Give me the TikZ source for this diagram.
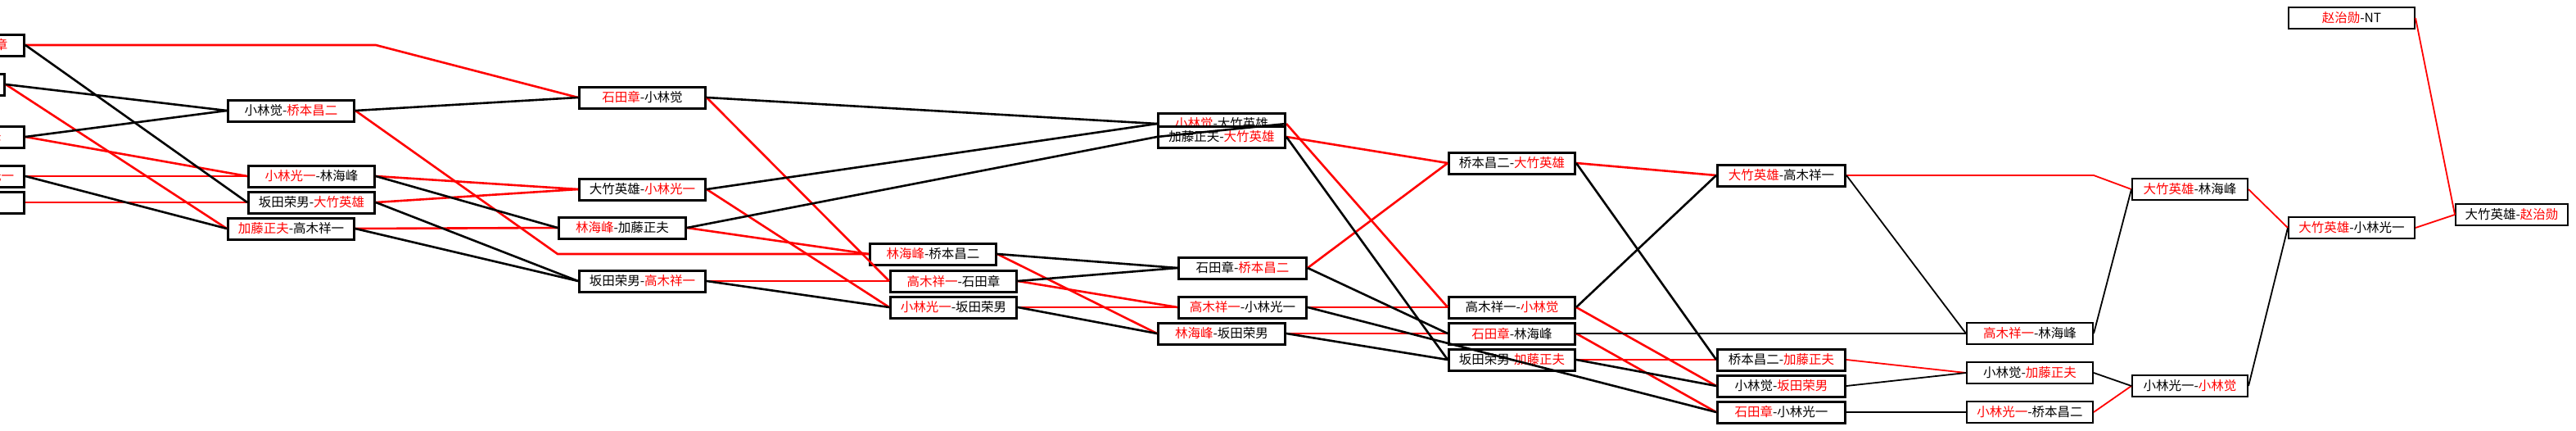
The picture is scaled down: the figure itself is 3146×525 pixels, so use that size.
\documentclass[tikz,border=0pt]{standalone}
\usepackage{fontspec}
\setmainfont{Noto Sans CJK SC}
\usetikzlibrary{calc}

% red name in a pairing
\newcommand{\rd}[1]{\textcolor{red}{#1}}

\tikzset{
  game/.style={draw, line width=3pt, fill=white, inner sep=0pt,
    minimum height=26pt, anchor=west, font=\fontsize{15.5}{16}\selectfont},
  lgame/.style={game, line width=2pt},
  won/.style={red, line width=2.6pt},
  lost/.style={black, line width=2.6pt},
  lwon/.style={red, line width=1.8pt},
  llost/.style={black, line width=1.8pt}
}

\begin{document}
\begin{tikzpicture}[x=1pt,y=-1pt]
\useasboundingbox (0,0) rectangle (3146,525);
\clip (0,0) rectangle (3146,525);

% boxes of the first rounds: name/left x/centre y/width/pairing
\foreach \n/\x/\y/\w/\t in {
  L1/-126/55/154/{坂田荣男-\rd{石田章}},
  L2/-150/103/154/{桥本昌二-\rd{加藤正夫}},
  L3/-126/167/154/{小林觉-\rd{林海峰}},
  L4/-126/215/154/{高木祥一-\rd{小林光一}},
  L5/-126/247/154/{\rd{大竹英雄}-NT},
  A1/277/135/154/{小林觉-\rd{桥本昌二}},
  A2/302/215/154/{\rd{小林光一}-林海峰},
  A3/302/247/154/{坂田荣男-\rd{大竹英雄}},
  A4/277/279/154/{\rd{加藤正夫}-高木祥一},
  B1/706/119/154/{\rd{石田章}-小林觉},
  B2/706/231/154/{大竹英雄-\rd{小林光一}},
  B3/681/278/155/{\rd{林海峰}-加藤正夫},
  B4/706/343/154/{坂田荣男-\rd{高木祥一}},
  C1/1061/310/154/{\rd{林海峰}-桥本昌二},
  C2/1086/343/154/{\rd{高木祥一}-石田章},
  C3/1086/375/154/{\rd{小林光一}-坂田荣男},
  D1/1413/151/155/{\rd{小林觉}-大竹英雄},
  D2/1413/167/155/{加藤正夫-\rd{大竹英雄}},
  D3/1438/327/156/{石田章-\rd{桥本昌二}},
  D4/1438/375/156/{\rd{高木祥一}-小林光一},
  D5/1413/407/155/{\rd{林海峰}-坂田荣男},
  E1/1768/199/154/{桥本昌二-\rd{大竹英雄}},
  E2/1768/375/154/{高木祥一-\rd{小林觉}},
  E3/1768/407/154/{\rd{石田章}-林海峰},
  E4/1768/439/154/{坂田荣男-\rd{加藤正夫}},
  F1/2096/214/156/{\rd{大竹英雄}-高木祥一},
  F2/2096/439/156/{桥本昌二-\rd{加藤正夫}},
  F3/2096/471/156/{小林觉-\rd{坂田荣男}},
  F4/2096/503/156/{\rd{石田章}-小林光一}}
  \node[game, minimum width=\w pt] (\n) at (\x,\y) {\t};

% boxes of the last rounds, thinner frame
\foreach \n/\x/\y/\w/\t in {
  G1/2401/407/154/{\rd{高木祥一}-林海峰},
  G2/2401/455/154/{小林觉-\rd{加藤正夫}},
  G3/2401/503/154/{\rd{小林光一}-桥本昌二},
  H1/2603/231/141/{\rd{大竹英雄}-林海峰},
  H2/2603/471/141/{小林光一-\rd{小林觉}},
  I1/2794/22/154/{\rd{赵治勋}-NT},
  I2/2794/278/154/{\rd{大竹英雄}-小林光一},
  J1/2998/262/137/{大竹英雄-\rd{赵治勋}}}
  \node[lgame, minimum width=\w pt] (\n) at (\x,\y) {\t};

% red tracks
\foreach \a/\b in {L2/A4, L3/A2, L4/A2, L5/A3, A2/B2, A3/B2, A4/B3,
  B1/C2, B2/C3, B3/C1, B4/C2, C1/D5, C2/D4, C3/D4, D1/E2, D2/E1,
  D3/E1, D4/E2, D5/E3, E1/F1, E2/F3, E3/F4, E4/F2}
  \draw[won] (\a.east) -- (\b.west);
\draw[won] (L1.east) -- (L1.east -| A2.east) -- (B1.west);
\draw[won] (A1.east) -- (B3.west |- C1.west) -- (C1.west);

% black tracks
\foreach \a/\b in {L1/A3, L2/A1, L3/A1, L4/A4, A1/B1, A2/B3, A3/B4,
  A4/B4, B1/D1, B2/D1, B3/D2, B4/C3, C1/D3, C2/D3, C3/D5, D1/D2,
  D2/E4, D3/E3, D4/F4, D5/E4, E1/F2, E2/F1, E4/F3}
  \draw[lost] (\a.east) -- (\b.west);

% last rounds
\foreach \a/\b in {F2/G2, G3/H2, H1/I2, I1/J1, I2/J1}
  \draw[lwon] (\a.east) -- (\b.west);
\draw[lwon] (F1.east) -- (F1.east -| G1.east) -- (H1.west);
\foreach \a/\b in {E3/G1, F1/G1, F3/G2, F4/G3, G1/H1, G2/H2, H2/I2}
  \draw[llost] (\a.east) -- (\b.west);

\end{tikzpicture}
\end{document}
